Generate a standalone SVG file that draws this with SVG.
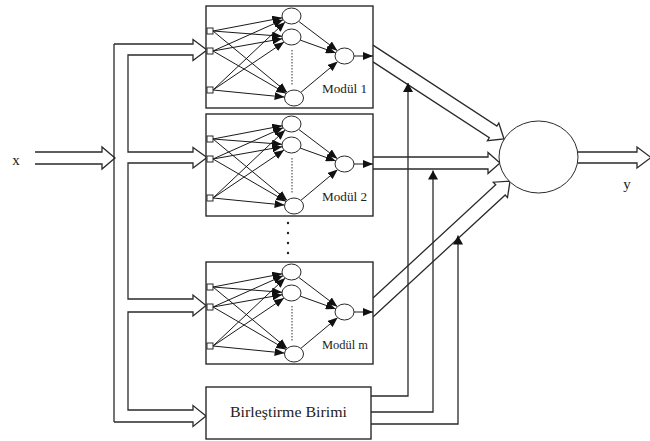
<svg xmlns="http://www.w3.org/2000/svg" width="650" height="441" viewBox="0 0 650 441">
<style>
.ln{fill:none;stroke:#2a2a2a;stroke-width:1.3}
.net{fill:none;stroke:#1a1a1a;stroke-width:1;marker-end:url(#ah)}
.box{fill:#fff;stroke:#2a2a2a;stroke-width:1.4}
.nd{fill:#fff;stroke:#2a2a2a;stroke-width:1}
.lbl{font-family:"Liberation Serif","Times New Roman",serif;fill:#222}
</style>
<defs>
<marker id="ah" markerWidth="10" markerHeight="8" refX="10" refY="4" orient="auto" markerUnits="userSpaceOnUse"><path d="M0,0 L10,4 L0,8 z" fill="#111"/></marker>
<marker id="ahb" markerWidth="10" markerHeight="10" refX="9" refY="5" orient="auto" markerUnits="userSpaceOnUse"><path d="M0,0 L9,5 L0,10 z" fill="#111"/></marker>
<g id="net">
<rect class="box" x="206" y="0" width="167" height="102"/>
<line class="net" x1="213" y1="25" x2="282.2" y2="11.8"/>
<line class="net" x1="213" y1="25" x2="282" y2="30.3"/>
<line class="net" x1="213" y1="25" x2="287.2" y2="86.4"/>
<line class="net" x1="213" y1="45" x2="283.1" y2="13.7"/>
<line class="net" x1="213" y1="45" x2="282.2" y2="32.7"/>
<line class="net" x1="213" y1="45" x2="286.2" y2="87.5"/>
<line class="net" x1="213" y1="84" x2="285.2" y2="16"/>
<line class="net" x1="213" y1="84" x2="284.1" y2="36"/>
<line class="net" x1="213" y1="84" x2="284.6" y2="91.1"/>
<line class="net" x1="298.6" y1="15.3" x2="337.4" y2="44.7"/>
<line class="net" x1="300.2" y1="34.1" x2="335.8" y2="46.9"/>
<line class="net" x1="300.8" y1="86.4" x2="337.7" y2="55.6"/>
<line class="net" x1="354" y1="50" x2="373" y2="50"/>
<line x1="292" y1="44" x2="292" y2="80" stroke="#333" stroke-width="1" stroke-dasharray="1.5,1.5"/>
<rect class="nd" x="207" y="22" width="6" height="6"/>
<rect class="nd" x="207" y="42" width="6" height="6"/>
<rect class="nd" x="207" y="81" width="6" height="6"/>
<ellipse class="nd" cx="291.5" cy="10" rx="9.5" ry="8"/>
<ellipse class="nd" cx="291.5" cy="31" rx="9.5" ry="8"/>
<ellipse class="nd" cx="294" cy="92" rx="9.5" ry="8"/>
<ellipse class="nd" cx="344.5" cy="50" rx="9.5" ry="8"/>
</g>
</defs>
<rect width="650" height="441" fill="#fff"/>
<g id="connectors">
<polyline class="ln" points="35,152 102,152 102,147 115,158 102,169 102,164 35,164"/>
<line class="ln" x1="114" y1="44" x2="114" y2="422"/>
<polyline class="ln" points="114,44 193,44 193,39.5 207,50 193,60.5 193,55 128,55 128,152 193,152 193,147.5 207,157.5 193,168 193,163 128,163 128,299 193,299 193,295 206,305.5 193,316 193,312 128,312 128,410 193,410 193,405.5 206,416 193,426.5 193,422 114,422"/>
<polyline class="ln" points="373,45.1 496.9,126 498.8,123.1 504,139 487.4,140.7 489.3,137.8 373,61.9"/>
<polyline class="ln" points="373,157 488,157 488,152.5 500,163 488,173.5 488,169 373,169"/>
<polyline class="ln" points="373,298 495.7,184.8 493.3,182.2 510,181.1 507.5,197.6 505.2,195 373,317"/>
<polyline class="ln" points="578,152 637,152 637,147 651,157.5 637,168 637,163 578,163"/>
<polyline class="ln" points="371,396 408,396 408,83" marker-end="url(#ahb)"/>
<polyline class="ln" points="371,412 433,412 433,170.5" marker-end="url(#ahb)"/>
<polyline class="ln" points="371,424 458,424 458,235.5" marker-end="url(#ahb)"/>
</g>
<g id="modul1" transform="translate(0,6)">
<use href="#net"/>
<text class="lbl" x="322" y="87" font-size="13" textLength="45" lengthAdjust="spacingAndGlyphs">Modül 1</text>
</g>
<g id="modul2" transform="translate(0,114)">
<use href="#net"/>
<text class="lbl" x="322" y="87" font-size="13" textLength="45" lengthAdjust="spacingAndGlyphs">Modül 2</text>
</g>
<g id="dots" fill="#222">
<circle cx="288" cy="223" r="1.2"/>
<circle cx="288" cy="233" r="1.2"/>
<circle cx="288" cy="243" r="1.2"/>
<circle cx="288" cy="253" r="1.2"/>
</g>
<g id="modulm" transform="translate(0,262)">
<use href="#net"/>
<text class="lbl" x="322" y="87" font-size="12" textLength="46" lengthAdjust="spacingAndGlyphs">Modül  m</text>
</g>
<g id="birlestirme">
<rect class="box" x="206" y="387" width="165" height="52"/>
<text class="lbl" x="288.5" y="417" font-size="15" text-anchor="middle" textLength="117" lengthAdjust="spacingAndGlyphs">Birleştirme Birimi</text>
</g>
<g id="cikis">
<ellipse class="nd" cx="538.5" cy="157" rx="39.5" ry="36" stroke-width="1.3"/>
</g>
<text class="lbl" x="16" y="165" font-size="15" text-anchor="middle">x</text>
<text class="lbl" x="627" y="189" font-size="15" text-anchor="middle">y</text>
</svg>
